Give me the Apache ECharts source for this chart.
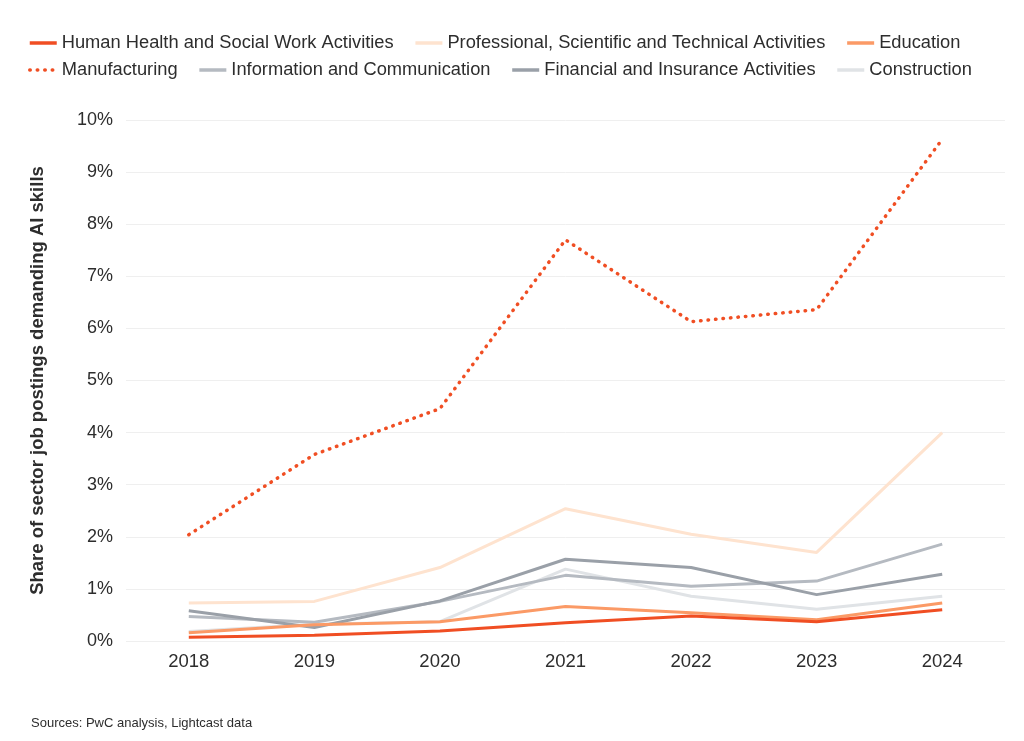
<!DOCTYPE html>
<html>
<head>
<meta charset="utf-8">
<script src="https://cdn.jsdelivr.net/npm/echarts@6/dist/echarts.min.js"></script>
<style>
  html, body { margin: 0; padding: 0; background: #fff; }
  #main { width: 1024px; height: 741px; }
</style>
</head>
<body>
<div id="main"></div>
<script>
// years on the x axis
let years = ['2018', '2019', '2020', '2021', '2022', '2023', '2024'];

// share of sector job postings demanding AI skills, in %
let healthValues = [0.07, 0.11, 0.19, 0.35, 0.48, 0.37, 0.60];
let professionalValues = [0.73, 0.76, 1.41, 2.54, 2.05, 1.70, 4.00];
let educationValues = [0.16, 0.31, 0.37, 0.66, 0.54, 0.41, 0.73];
let manufacturingValues = [2.04, 3.58, 4.46, 7.70, 6.13, 6.36, 9.63];
let infoValues = [0.47, 0.36, 0.76, 1.26, 1.05, 1.15, 1.86];
let financeValues = [0.58, 0.26, 0.77, 1.57, 1.41, 0.89, 1.28];
let constructionValues = [0.18, 0.32, 0.37, 1.38, 0.86, 0.61, 0.86];

let seriesNames = [
    'Human Health and Social Work Activities',
    'Professional, Scientific and Technical Activities',
    'Education',
    'Manufacturing',
    'Information and Communication',
    'Financial and Insurance Activities',
    'Construction'
];

let chartDom = document.getElementById('main');
let myChart = echarts.init(chartDom);
let option;

let font = 'Liberation Sans, Arial, Helvetica, sans-serif';

function makeLine(name, data, color, extra) {
    let s = {
        name: name,
        type: 'line',
        data: data,
        symbol: 'none',
        smooth: false,
        color: color,
        lineStyle: { color: color, width: 3 }
    };
    return Object.assign(s, extra || {});
}

let legendText = { fontSize: 18.3, color: '#2d2d2d', fontFamily: font };

option = {
    backgroundColor: '#fff',
    animation: false,
    textStyle: { fontFamily: font },
    title: {
        text: 'Sources: PwC analysis, Lightcast data',
        left: 26,
        top: 712,
        textStyle: { fontSize: 13, fontWeight: 'normal', color: '#2d2d2d', fontFamily: font }
    },
    legend: [
        {
            data: seriesNames.slice(0, 3),
            left: 23,
            top: 29,
            itemWidth: 27,
            itemHeight: 12,
            itemGap: 20,
            itemStyle: { opacity: 0 },
            lineStyle: { width: 3.5 },
            textStyle: legendText
        },
        {
            data: seriesNames.slice(3),
            left: 23,
            top: 56,
            itemWidth: 27,
            itemHeight: 12,
            itemGap: 20,
            itemStyle: { opacity: 0 },
            lineStyle: { width: 3.5 },
            textStyle: legendText
        }
    ],
    grid: {
        left: 126,
        right: 19,
        top: 120,
        bottom: 100
    },
    xAxis: {
        type: 'category',
        data: years,
        boundaryGap: true,
        axisLine: { show: false },
        axisTick: { show: false },
        axisLabel: { fontSize: 18.5, color: '#2d2d2d', margin: 11 }
    },
    yAxis: {
        type: 'value',
        min: 0,
        max: 10,
        interval: 1,
        name: 'Share of sector job postings demanding AI skills',
        nameLocation: 'middle',
        nameGap: 79,
        nameTextStyle: { fontSize: 18.5, fontWeight: 'bold', color: '#2d2d2d' },
        axisLine: { show: false },
        axisTick: { show: false },
        axisLabel: { formatter: '{value}%', fontSize: 18, color: '#2d2d2d', margin: 13 },
        splitLine: { lineStyle: { color: '#efefef', width: 1 } }
    },
    series: [
        makeLine(seriesNames[1], professionalValues, '#fee3cf'),
        makeLine(seriesNames[6], constructionValues, '#e0e3e6'),
        makeLine(seriesNames[4], infoValues, '#b5bac1'),
        makeLine(seriesNames[5], financeValues, '#9aa0a8'),
        makeLine(seriesNames[2], educationValues, '#fb9a66'),
        makeLine(seriesNames[0], healthValues, '#f04e23'),
        makeLine(seriesNames[3], manufacturingValues, '#f04e23', {
            lineStyle: { color: '#f04e23', width: 3.5, type: [0.5, 7], cap: 'round' }
        })
    ]
};

option && myChart.setOption(option);
</script>
</body>
</html>
